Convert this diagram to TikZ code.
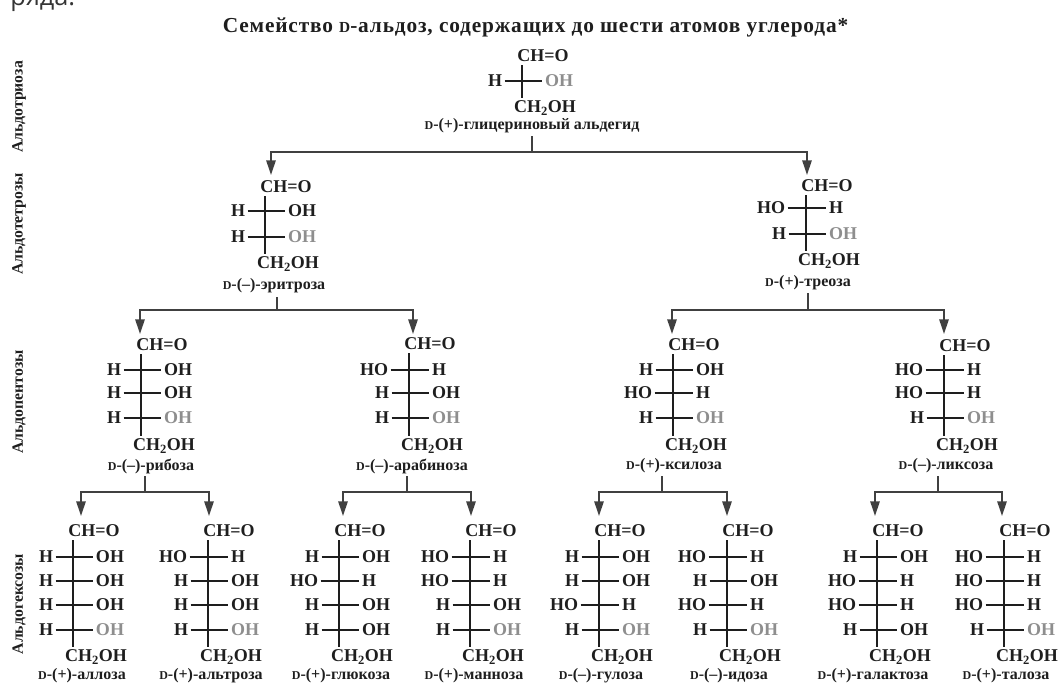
\documentclass[tikz,border=0pt]{standalone}
\usepackage{fontspec}
\usetikzlibrary{arrows.meta,calc}
\setmainfont{Liberation Serif}
\newfontfamily\titlefont[LetterSpace=4]{Liberation Serif}
\newfontfamily\capfont{Open Sans}
\definecolor{ink}{HTML}{1E1E1E}
\definecolor{fade}{HTML}{8E8E8E}
\newcommand{\dd}{{\fontsize{9}{10}\selectfont D}}
\tikzset{
  atom/.style={font=\fontsize{13.5}{15}\selectfont\bfseries,text=ink,inner sep=0pt,outer xsep=2pt,outer ysep=2.5pt,text height=8.8pt,text depth=0pt},
  faded/.style={atom,text=fade},
  sugarname/.style={font=\fontsize{12}{14}\selectfont\bfseries,text=ink,inner sep=0pt},
  classname/.style={font=\fontsize{11.8}{14}\selectfont\bfseries,text=ink,rotate=90,inner sep=0pt},
  bond/.style={draw=ink,line width=1pt},
  spine/.style={draw=ink,line width=1.1pt},
  link/.style={draw=ink!85,line width=1.3pt},
  linkarrow/.style={link,-{Triangle[length=11pt,width=7pt]}}
}
% #1 id, #2 spine x, #3 CH=O y, #4 rows type/y, #5 CH2OH y, #6 name cx, #7 name y, #8 name
\newcommand{\fischer}[8]{%
  \node[atom] (#1-top) at (#2+21,#3) {CH=O};
  \node[atom] (#1-bot) at (#2+23,#5) {CH\textsubscript{2}OH};
  \draw[spine] (#1-top.south -| #2,0) -- (#1-bot.north -| #2,0);
  \foreach \t/\yy [count=\i] in {#4}{
    \if\t L
      \node[atom] (#1-l\i) at (#2-27,\yy) {H};
      \node[atom] (#1-r\i) at (#2+37,\yy) {OH};
    \fi
    \if\t G
      \node[atom] (#1-l\i) at (#2-27,\yy) {H};
      \node[faded] (#1-r\i) at (#2+37,\yy) {OH};
    \fi
    \if\t R
      \node[atom] (#1-l\i) at (#2-35,\yy) {HO};
      \node[atom] (#1-r\i) at (#2+30,\yy) {H};
    \fi
    \draw[bond] (#1-l\i) -- (#1-r\i);
  }
  \node[sugarname] (#1-name) at (#6,#7) {\dd-#8};
}
% #1 id, #2 stem x, #3 stem top y, #4 junction y, #5 left x, #6 right x, #7 tip y, #8 left child, #9 right child
\newcommand{\fork}[9]{%
  \coordinate (#1-s) at (#2,#3);
  \coordinate (#1-j) at (#2,#4);
  \coordinate (#1-a) at (#5,#7);
  \coordinate (#1-b) at (#6,#7);
  \draw[link] (#1-s) -- (#1-j);
  \draw[linkarrow] (#1-j) -| (#1-a);
  \draw[linkarrow] (#1-j) -| (#1-b);
}
\begin{document}
\begin{tikzpicture}[x=0.75pt,y=-0.75pt]
\useasboundingbox (0,0) rectangle (1060,682);
\node[font=\capfont\fontsize{19}{21}\selectfont,text=ink!90,anchor=base west,inner sep=0pt] (frag) at (10,5) {ряда.};
\node[font=\titlefont\fontsize{16}{18}\selectfont\bfseries,text=ink,inner sep=0pt] (title) at (535.5,27) {Семейство {\fontsize{11.5}{12}\selectfont D}-альдоз, содержащих до шести атомов углерода*};
\node[classname] (c3) at (19,107) {Альдотриоза};
\node[classname] (c4) at (19,224) {Альдотетрозы};
\node[classname] (c5) at (19,402) {Альдопентозы};
\node[classname] (c6) at (19,604) {Альдогексозы};

\fischer{gly}{522}{56}{G/81}{107}{532}{126}{(+)-глицериновый альдегид}
\fischer{ery}{265}{187}{L/211,G/237}{263}{274}{286}{(--)-эритроза}
\fischer{thr}{806}{186}{R/208,G/234}{260}{808}{283}{(+)-треоза}
\fischer{rib}{141}{345}{L/370,L/393,G/418}{445}{151}{466}{(--)-рибоза}
\fischer{ara}{409}{344}{R/370,L/393,G/418}{445}{412}{466}{(--)-арабиноза}
\fischer{xyl}{673}{345}{L/370,R/393,G/418}{445}{674}{466}{(+)-ксилоза}
\fischer{lyx}{944}{346}{R/370,R/393,G/418}{445}{946}{466}{(--)-ликсоза}
\fischer{all}{73}{531}{L/557,L/581,L/605,G/630}{656}{82}{676}{(+)-аллоза}
\fischer{alt}{208}{531}{R/557,L/581,L/605,G/630}{656}{211}{676}{(+)-альтроза}
\fischer{glu}{339}{531}{L/557,R/581,L/605,L/630}{656}{341}{676}{(+)-глюкоза}
\fischer{man}{470}{531}{R/557,R/581,L/605,G/630}{656}{474}{676}{(+)-манноза}
\fischer{gul}{599}{531}{L/557,L/581,R/605,G/630}{656}{601}{676}{(--)-гулоза}
\fischer{ido}{727}{531}{R/557,L/581,R/605,G/630}{656}{729}{676}{(--)-идоза}
\fischer{gal}{877}{531}{L/557,R/581,R/605,L/630}{656}{873}{676}{(+)-галактоза}
\fischer{tal}{1004}{531}{R/557,R/581,R/605,G/630}{656}{1006}{676}{(+)-талоза}

\fork{f1}{532}{136}{152}{271}{807}{175}{ery}{thr}
\fork{f2}{277}{297}{310}{140}{413}{334}{rib}{ara}
\fork{f3}{808}{293}{310}{672}{944}{334}{xyl}{lyx}
\fork{f4}{145}{476}{492}{81}{209}{516}{all}{alt}
\fork{f5}{407}{476}{492}{343}{471}{516}{glu}{man}
\fork{f6}{662}{476}{492}{599}{727}{516}{gul}{ido}
\fork{f7}{938}{476}{492}{875}{1002}{516}{gal}{tal}
\end{tikzpicture}
\end{document}
